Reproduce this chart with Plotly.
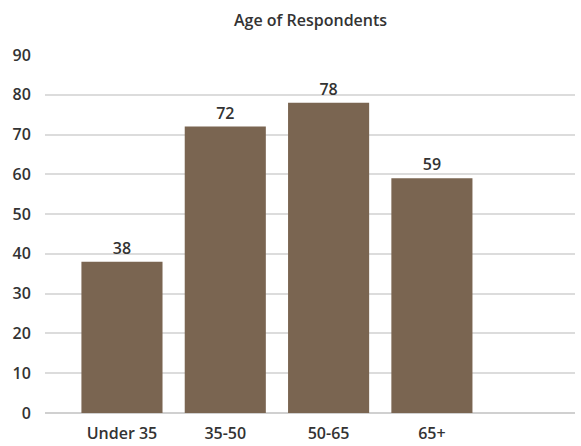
import plotly.graph_objects as go

# Respondent counts by age band
categories = ["Under 35", "35-50", "50-65", "65+"]
counts = [38, 72, 78, 59]
y_ticks = [0, 10, 20, 30, 40, 50, 60, 70, 80, 90]

bar_color = "#7a6551"
text_color = "#333333"
font_family = "'Open Sans', Lato, sans-serif"

fig = go.Figure(
    go.Bar(
        x=list(range(len(categories))),
        y=counts,
        marker=dict(color=bar_color, line=dict(width=0)),
        text=[str(v) for v in counts],
        textposition="outside",
        cliponaxis=False,
        textfont=dict(size=16, color=text_color, family=font_family, weight=600),
        width=0.785,
    )
)

fig.update_layout(
    width=581,
    height=446,
    margin=dict(l=45, r=6, t=55, b=33),
    paper_bgcolor="white",
    plot_bgcolor="white",
    showlegend=False,
    font=dict(family=font_family, color=text_color, weight=600),
    xaxis=dict(
        range=[-0.745, 4.385],
        automargin=False,
        tickmode="array",
        tickvals=list(range(len(categories))),
        ticktext=categories,
        tickfont=dict(size=16, color=text_color, weight=600),
        showgrid=False,
        zeroline=False,
        showline=False,
        ticks="outside",
        ticklen=6,
        tickcolor="rgba(0,0,0,0)",
    ),
    yaxis=dict(
        range=[0, 90],
        automargin=False,
        tickmode="array",
        tickvals=y_ticks,
        tickfont=dict(size=16, color=text_color, weight=600),
        showgrid=True,
        gridcolor="#dcdcdc",
        gridwidth=1.5,
        zeroline=True,
        zerolinecolor="#d0d0d0",
        zerolinewidth=1.5,
        showline=False,
        ticks="outside",
        ticklen=10,
        tickcolor="rgba(0,0,0,0)",
    ),
    annotations=[
        dict(
            text="Age of Respondents",
            xref="paper", yref="paper",
            x=(310 - 45) / 530, y=1,
            yshift=22,
            xanchor="center", yanchor="bottom",
            showarrow=False,
            font=dict(size=16, color=text_color, family=font_family, weight=600),
        ),
    ],
)

fig.write_html("out.html")
